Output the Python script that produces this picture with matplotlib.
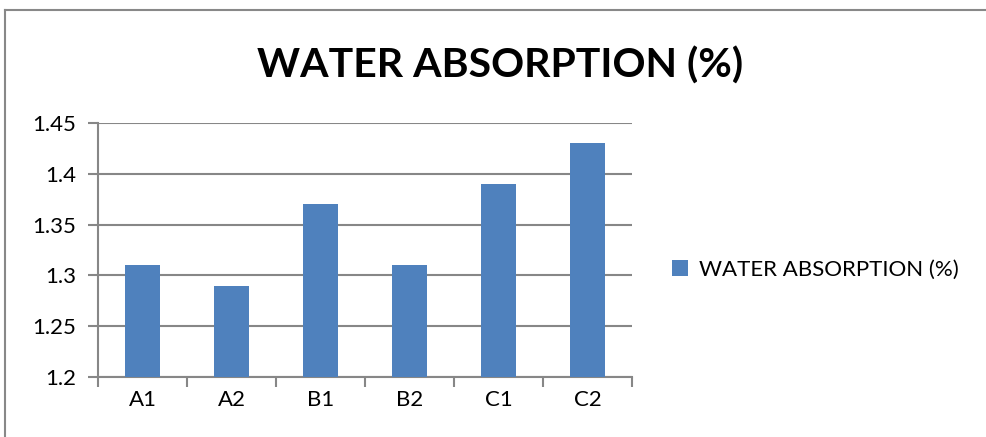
import numpy as np
import matplotlib.pyplot as plt
from matplotlib.lines import Line2D
from matplotlib.patches import Patch

# 数据
categories = ["A1", "A2", "B1", "B2", "C1", "C2"]
water_absorption = [1.31, 1.29, 1.37, 1.31, 1.39, 1.43]
y_ticks = [1.2, 1.25, 1.3, 1.35, 1.4, 1.45]
y_tick_labels = ["1.2", "1.25", "1.3", "1.35", "1.4", "1.45"]
series_name = "WATER ABSORPTION (%)"

plt.rcParams['font.family'] = ['Lato', 'DejaVu Sans']
bar_color = "#4F81BD"
grid_color = "#878787"

fig = plt.figure(figsize=(9.86, 4.37), dpi=100)
ax = fig.add_axes([98/986, 1-377/437, (632-98)/986, (377-123)/437])

x = np.arange(len(categories))
ax.bar(x, np.array(water_absorption) - 1.2, bottom=1.2, width=0.4, color=bar_color, zorder=3)

ax.set_ylim(1.2, 1.45)
ax.set_xlim(-0.5, len(categories) - 0.5)
ax.set_yticks(y_ticks)
ax.set_yticklabels(y_tick_labels, fontsize=16)
ax.yaxis.grid(True, color=grid_color, linewidth=1.5, zorder=0)

# x轴刻度在类别边界
ax.set_xticks(np.arange(-0.5, len(categories), 1.0))
ax.set_xticklabels([""] * (len(categories) + 1))
ax.set_xticks(x, minor=True)
ax.set_xticklabels(categories, minor=True, fontsize=16)
ax.tick_params(axis="x", which="minor", length=0, pad=9)
ax.tick_params(axis="x", which="major", length=7, width=1.5, color=grid_color)
ax.tick_params(axis="y", length=7, width=1.5, color=grid_color, pad=9)

for s in ["top", "right"]:
    ax.spines[s].set_visible(False)
for s in ["left", "bottom"]:
    ax.spines[s].set_color(grid_color)
    ax.spines[s].set_linewidth(1.5)

fig.text(500/986, 1-66/437, series_name, ha="center", va="center",
         fontsize=29.5, fontweight="bold")

# 图例
handle = Patch(facecolor=bar_color, edgecolor="none")
fig.legend([handle], [series_name], loc="center left", bbox_to_anchor=(652/986, 1-270/437),
           frameon=False, fontsize=16, handlelength=0.7, handleheight=0.7, handletextpad=0.5)

# 外框
fig.add_artist(Line2D([5/986, 5/986], [0, 1-10/437], transform=fig.transFigure,
                      color="#888888", linewidth=1.5))
fig.add_artist(Line2D([5/986, 1], [1-10/437, 1-10/437], transform=fig.transFigure,
                      color="#888888", linewidth=1.5))

fig.savefig("out.png", dpi=100)
